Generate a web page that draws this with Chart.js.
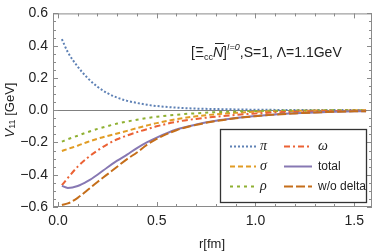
<!DOCTYPE html>
<html><head><meta charset="utf-8">
<script src="https://cdn.jsdelivr.net/npm/chart.js@4/dist/chart.umd.min.js"></script>
<style>html,body{margin:0;padding:0;background:#fff}#wrap{width:374px;height:252px}</style>
</head><body><div id="wrap"><canvas id="c" width="374" height="252"></canvas></div>
<script>
const r        = [0.02, 0.05, 0.1, 0.15, 0.2, 0.25, 0.3, 0.35, 0.4, 0.45, 0.5, 0.6, 0.7, 0.8, 0.9, 1.0, 1.1, 1.2, 1.3, 1.4, 1.5, 1.56];
const vPi      = [0.44, 0.36, 0.27, 0.20, 0.145, 0.106, 0.078, 0.058, 0.045, 0.034, 0.026, 0.016, 0.010, 0.007, 0.005, 0.003, 0.002, 0.0015, 0.001, 0.0007, 0.0005, 0.0004];
const vSigma   = [-0.253, -0.24, -0.22, -0.197, -0.177, -0.16, -0.145, -0.128, -0.111, -0.095, -0.08, -0.056, -0.038, -0.025, -0.016, -0.010, -0.006, -0.004, -0.0025, -0.0015, -0.001, -0.0008];
const vRho     = [-0.195, -0.18, -0.158, -0.136, -0.116, -0.099, -0.083, -0.07, -0.059, -0.049, -0.041, -0.028, -0.019, -0.012, -0.008, -0.005, -0.003, -0.002, -0.0013, -0.0008, -0.0005, -0.0004];
const vOmega   = [-0.465, -0.42, -0.35, -0.295, -0.25, -0.212, -0.18, -0.157, -0.136, -0.118, -0.1, -0.072, -0.054, -0.04, -0.029, -0.02, -0.014, -0.01, -0.007, -0.005, -0.0035, -0.003];
const vTotal   = [-0.469, -0.482, -0.47, -0.44, -0.40, -0.355, -0.313, -0.275, -0.235, -0.20, -0.17, -0.12, -0.089, -0.066, -0.049, -0.036, -0.026, -0.019, -0.014, -0.010, -0.007, -0.006];
const vNoDelta = [-0.588, -0.578, -0.543, -0.495, -0.445, -0.398, -0.35, -0.303, -0.262, -0.215, -0.178, -0.124, -0.091, -0.067, -0.05, -0.037, -0.027, -0.02, -0.014, -0.010, -0.007, -0.006];
const xTicks = [0, 0.5, 1.0, 1.5];
const yTicks = [-0.6, -0.4, -0.2, 0.0, 0.2, 0.4, 0.6];
const seriesNames = ['π', 'σ', 'ρ', 'ω', 'total', 'w/o delta'];

const SANS = '"Liberation Sans", Arial, sans-serif';
const SERIF = '"Liberation Serif", "Times New Roman", serif';
const styles = [
  {color:'#5E81B5', dash:[2,2]},
  {color:'#E19C24', dash:[5,3]},
  {color:'#8FB032', dash:[3,4]},
  {color:'#EB6235', dash:[6,3,2,3]},
  {color:'#8778B3', dash:[]},
  {color:'#C56E1A', dash:[9,3]}
];
const values = [vPi, vSigma, vRho, vOmega, vTotal, vNoDelta];
const datasets = values.map((arr, i) => ({
  label: seriesNames[i],
  data: r.map((x, k) => ({x: x, y: arr[k]})),
  borderColor: styles[i].color,
  borderDash: styles[i].dash,
  borderWidth: 2,
  pointRadius: 0,
  fill: false,
  cubicInterpolationMode: 'monotone',
  order: 10 - i
}));

const fmt = v => { const s = Math.abs(v) < 1e-9 ? '0.0' : v.toFixed(1); return s.replace('-', '\u2212'); };

const framePlugin = {
  id: 'frame',
  beforeDatasetsDraw(chart) {
    const {ctx, chartArea: a, scales: {y}} = chart;
    ctx.save();
    ctx.strokeStyle = '#808080'; ctx.lineWidth = 1;
    const y0 = Math.round(y.getPixelForValue(0)) + 0.5;
    ctx.beginPath(); ctx.moveTo(a.left, y0); ctx.lineTo(a.right, y0); ctx.stroke();
    ctx.restore();
  },
  afterDatasetsDraw(chart) {
    const {ctx, chartArea: a, scales: {x, y}} = chart;
    ctx.save();
    ctx.strokeStyle = '#8a8a8a'; ctx.lineWidth = 1;
    ctx.strokeRect(a.left + 0.5, a.top + 0.5, a.right - a.left - 1, a.bottom - a.top - 1);
    ctx.beginPath();
    for (let k = 0; k <= 15; k++) {
      const v = k / 10; const px = Math.round(x.getPixelForValue(v)) + 0.5;
      const len = (k % 5 === 0) ? 5 : 3;
      ctx.moveTo(px, a.bottom); ctx.lineTo(px, a.bottom - len);
      ctx.moveTo(px, a.top); ctx.lineTo(px, a.top + len);
    }
    for (let k = -12; k <= 12; k++) {
      const v = k * 0.05; const py = Math.round(y.getPixelForValue(v)) + 0.5;
      const len = (k % 4 === 0) ? 5 : 3;
      ctx.moveTo(a.left, py); ctx.lineTo(a.left + len, py);
      ctx.moveTo(a.right, py); ctx.lineTo(a.right - len, py);
    }
    ctx.stroke();
    ctx.restore();
  },
  afterDraw(chart) {
    const ctx = chart.ctx;
    ctx.save();
    ctx.fillStyle = '#222';
    ctx.textBaseline = 'alphabetic';
    // annotation
    let px = 191; const base = 57;
    const put = (t, font, dy) => { ctx.font = font; ctx.fillText(t, px, base + (dy || 0)); const w = ctx.measureText(t).width; px += w; return w; };
    put('[', '14px ' + SANS);
    put('Ξ', '14px ' + SANS);
    put('cc', '9px ' + SANS, 3);
    const nx = px; const nw = put('N', 'italic 14px ' + SANS);
    ctx.strokeStyle = '#222'; ctx.lineWidth = 1;
    ctx.beginPath(); ctx.moveTo(nx + 2, base - 13.5); ctx.lineTo(nx + nw + 1, base - 13.5); ctx.stroke();
    put(']', '14px ' + SANS);
    put('I=0', 'italic 9px ' + SANS, -7);
    put(',S=1, Λ=1.1GeV', '14px ' + SANS);
    // y title
    ctx.save();
    ctx.translate(10, 110); ctx.rotate(-Math.PI / 2);
    const parts = [['V', 'italic 13px ' + SANS, 0], ['11', '9px ' + SANS, 3], [' [GeV]', '13px ' + SANS, 0]];
    let tw = 0; parts.forEach(p => { ctx.font = p[1]; tw += ctx.measureText(p[0]).width; });
    let tx = -tw / 2;
    ctx.textBaseline = 'middle';
    parts.forEach(p => { ctx.font = p[1]; ctx.fillText(p[0], tx, p[2]); tx += ctx.measureText(p[0]).width; });
    ctx.restore();
    // x title
    ctx.font = '13px ' + SANS; ctx.textAlign = 'center'; ctx.textBaseline = 'middle';
    ctx.fillText('r[fm]', 212, 244);
    ctx.textAlign = 'left';
    // legend
    ctx.strokeStyle = '#333'; ctx.lineWidth = 1.3;
    ctx.strokeRect(220.5, 129.5, 146, 73);
    const rows = [146.5, 166.5, 186.5];
    const layout = [[0, 0, 0], [3, 1, 0], [1, 0, 1], [4, 1, 1], [2, 0, 2], [5, 1, 2]];
    layout.forEach(([i, col, row]) => {
      const x1 = col === 0 ? 230 : 284, x2 = col === 0 ? 256 : 312, lx = col === 0 ? 260 : 318;
      const yy = rows[row];
      ctx.strokeStyle = styles[i].color; ctx.lineWidth = 2; ctx.setLineDash(styles[i].dash);
      ctx.beginPath(); ctx.moveTo(x1, yy); ctx.lineTo(x2, yy); ctx.stroke();
      ctx.setLineDash([]);
      ctx.fillStyle = '#222'; ctx.textBaseline = 'middle';
      ctx.font = i < 4 ? 'italic 14px ' + SERIF : '12px ' + SANS;
      ctx.fillText(seriesNames[i], lx, yy);
    });
    ctx.restore();
  }
};

new Chart(document.getElementById('c'), {
  type: 'line',
  data: {datasets},
  options: {
    responsive: false, animation: false, maintainAspectRatio: false,
    layout: {padding: {top: 9, right: 2, left: 0, bottom: 0}},
    plugins: {legend: {display: false}, tooltip: {enabled: false}},
    scales: {
      x: {
        type: 'linear', min: -0.025, max: 1.59,
        grid: {display: false, drawTicks: false}, border: {display: false},
        afterBuildTicks: s => { s.ticks = xTicks.map(v => ({value: v})); },
        afterFit: s => { s.height = 45; },
        ticks: {padding: 6, color: '#222', font: {family: SANS, size: 14}, callback: v => fmt(v), maxRotation: 0}
      },
      y: {
        min: -0.6, max: 0.6,
        grid: {display: false, drawTicks: false}, border: {display: false},
        afterBuildTicks: s => { s.ticks = yTicks.map(v => ({value: v})); },
        afterFit: s => { s.width = 53; },
        ticks: {padding: 5, color: '#222', font: {family: SANS, size: 14}, callback: v => fmt(v)}
      }
    }
  },
  plugins: [framePlugin]
});
</script></body></html>
